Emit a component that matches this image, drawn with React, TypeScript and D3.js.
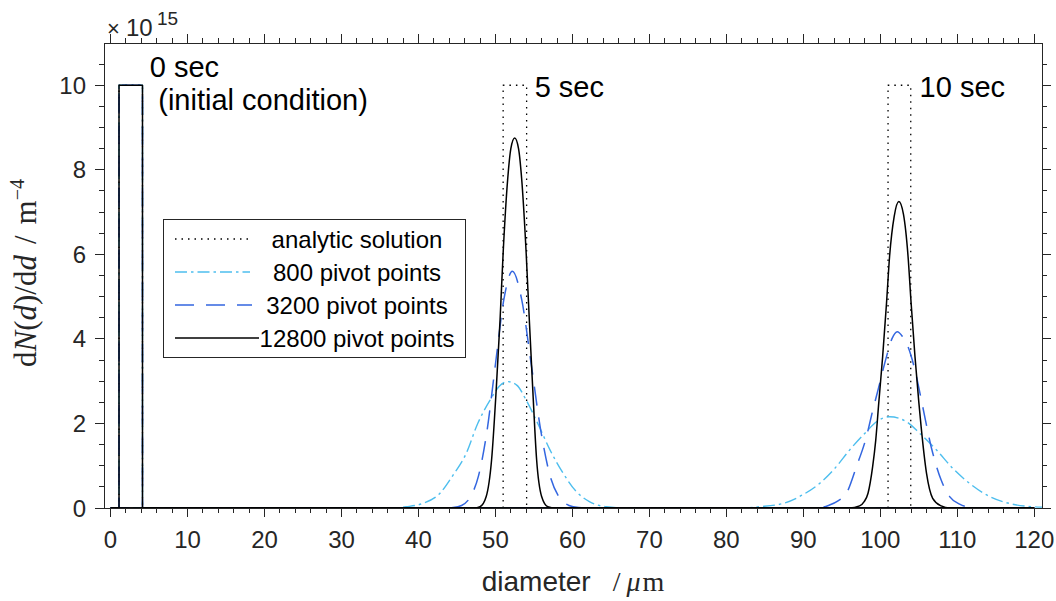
import React from 'react';
import * as d3 from 'd3';

// ---- axes data ----
const X_DOMAIN: [number, number] = [-0.85, 121];
const Y_DOMAIN: [number, number] = [0, 11];
const X_MAJOR = [0, 10, 20, 30, 40, 50, 60, 70, 80, 90, 100, 110, 120];
const Y_MAJOR = [0, 2, 4, 6, 8, 10];
const X_MINOR_STEP = 2;
const Y_MINOR_STEP = 0.5;
const EXPONENT = '15';

// ---- legend / labels ----
const SERIES_NAMES = ['analytic solution', '800 pivot points', '3200 pivot points', '12800 pivot points'];

// analytic solution: top-hat distributions [dmin, dmax] at height 10 (x1e15)
const RECT_BOUNDS: [number, number][] = [[1.1, 4.15], [51, 54.05], [101, 103.95]];
const RECT_HEIGHT = 10;

// annotations (text, d, value)
const ANNOTATIONS: { text: string; d: number; v: number }[] = [
  { text: '0 sec', d: 5.1, v: 10.2 },
  { text: '(initial condition)', d: 6.2, v: 9.42 },
  { text: '5 sec', d: 55.1, v: 9.73 },
  { text: '10 sec', d: 105.1, v: 9.73 },
];

// ---- numerical results [d (um), dN/dd (x1e15)] ----
const P800_T5: [number, number][] = [
  [0, 0], [36.5, 0], [38.4, 0.03], [40.6, 0.11], [42.8, 0.35], [44.5, 0.78], [46.2, 1.29], [47.7, 2.0],
  [49.3, 2.55], [50.5, 2.88], [51.6, 2.99], [52.8, 2.9], [54.0, 2.55], [55.5, 2.0], [57.1, 1.37],
  [58.8, 0.82], [60.5, 0.39], [62.2, 0.15], [64.4, 0.03], [67, 0], [120, 0],
];
const P3200_T5: [number, number][] = [
  [0, 0], [43.5, 0], [44.5, 0.01], [45.6, 0.06], [46.7, 0.25], [47.8, 0.76], [48.9, 1.82], [50.0, 3.4],
  [51.1, 4.94], [52.2, 5.6], [53.4, 4.94], [54.65, 3.4], [55.9, 1.82], [57.1, 0.76], [58.3, 0.25],
  [59.55, 0.06], [60.8, 0.01], [62, 0], [120, 0],
];
const P12800_T5: [number, number][] = [
  [0, 0], [47.2, 0], [48.0, 0.03], [48.8, 0.27], [49.5, 1.14], [50.1, 2.8], [50.6, 4.45], [51.0, 6.03],
  [51.6, 7.8], [52.0, 8.5], [52.5, 8.75], [53.0, 8.5], [53.4, 7.8], [54.0, 6.0], [54.4, 4.45],
  [54.85, 2.8], [55.35, 1.14], [56.0, 0.27], [56.8, 0.03], [57.8, 0], [120, 0],
];
const P800_T10: [number, number][] = [
  [0, 0], [82, 0], [84.3, 0.03], [87.4, 0.11], [89.9, 0.31], [92.1, 0.58], [94.1, 0.94], [96.0, 1.37],
  [98.0, 1.77], [99.5, 2.04], [101.2, 2.16], [103.4, 2.04], [105.1, 1.77], [107.3, 1.37], [109.4, 0.94],
  [111.6, 0.58], [114.2, 0.27], [117.2, 0.09], [119.8, 0.03], [121, 0.02],
];
const P3200_T10: [number, number][] = [
  [0, 0], [90.5, 0], [92.5, 0.02], [93.4, 0.07], [94.5, 0.17], [95.6, 0.35], [96.9, 0.98], [98.2, 1.69],
  [99.0, 2.3], [99.7, 2.79], [100.8, 3.58], [101.5, 4.0], [102.2, 4.17], [102.9, 4.05], [103.4, 3.9],
  [104.5, 3.26], [105.5, 2.4], [106.6, 1.45], [107.9, 0.66], [109.0, 0.27], [110.3, 0.09], [111.5, 0.02],
  [113, 0], [120, 0],
];
const P12800_T10: [number, number][] = [
  [0, 0], [96.0, 0], [97.3, 0.05], [97.9, 0.15], [98.4, 0.35], [99.0, 0.98], [99.4, 1.6], [99.8, 2.5],
  [100.3, 3.58], [100.8, 4.84], [101.2, 5.95], [101.8, 6.9], [102.4, 7.25], [103.0, 6.95], [103.6, 5.95],
  [104.0, 4.84], [104.5, 3.58], [105.0, 2.5], [105.3, 1.92], [106.0, 0.82], [106.8, 0.23], [107.9, 0.05],
  [109, 0], [120, 0],
];

const AXIS_COLOR = '#262626';
const SANS = 'Liberation Sans, Arial, Helvetica, sans-serif';
const SERIF = 'Liberation Serif, Times New Roman, DejaVu Serif, serif';

const STYLES = [
  { color: '#000000', dash: '1.5,5', width: 1.3 },
  { color: '#4DBEEE', dash: '12,4,2.5,4', width: 1.4 },
  { color: '#3366E0', dash: '19,12', width: 1.5 },
  { color: '#000000', dash: 'none', width: 1.5 },
];

export default function App() {
  const W = 1056;
  const H = 601;
  const x = d3.scaleLinear().domain(X_DOMAIN).range([104, 1042]);
  const y = d3.scaleLinear().domain(Y_DOMAIN).range([508, 43]);

  const linear = d3.line<[number, number]>().x((p) => x(p[0])).y((p) => y(p[1]));
  const smooth = d3
    .line<[number, number]>()
    .x((p) => x(p[0]))
    .y((p) => y(p[1]))
    .curve(d3.curveMonotoneX);

  const rectPts = (b: [number, number]): [number, number][] => [
    [b[0], 0], [b[0], RECT_HEIGHT], [b[1], RECT_HEIGHT], [b[1], 0],
  ];
  const initPts: [number, number][] = [[0, 0], ...rectPts(RECT_BOUNDS[0]), [120, 0]];

  const seriesPaths: string[][] = [
    RECT_BOUNDS.map((b) => linear(rectPts(b)) as string),
    [linear(initPts) as string, smooth(P800_T5) as string, smooth(P800_T10) as string],
    [linear(initPts) as string, smooth(P3200_T5) as string, smooth(P3200_T10) as string],
    [linear(initPts) as string, smooth(P12800_T5) as string, smooth(P12800_T10) as string],
  ];

  const xMinor = d3.range(X_MAJOR[0], X_MAJOR[X_MAJOR.length - 1] + 0.001, X_MINOR_STEP).filter(
    (v) => !X_MAJOR.includes(v)
  );
  const yMinor = d3.range(0, Y_DOMAIN[1] - 0.001, Y_MINOR_STEP).filter((v) => !Y_MAJOR.includes(v));

  const [x0, x1] = x.range();
  const [y0, y1] = y.range(); // y0 bottom, y1 top
  const MAJ = 9;
  const MIN = 5;

  // legend layout
  const lg = { x: 163, y: 219, w: 302, h: 138 };
  const rowY = [239, 272, 305, 338];
  const lineEnd = [250, 250, 252, 259];

  return (
    <svg
      width={W}
      height={H}
      style={{ position: 'absolute', left: 0, top: 0, background: '#fff' }}
      xmlns="http://www.w3.org/2000/svg"
    >
      <rect x={0} y={0} width={W} height={H} fill="#fff" />

      {/* series */}
      {seriesPaths.map((paths, i) =>
        paths.map((d, j) => (
          <path
            key={`s${i}-${j}`}
            d={d}
            fill="none"
            stroke={STYLES[i].color}
            strokeWidth={STYLES[i].width}
            strokeDasharray={STYLES[i].dash}
            strokeLinejoin="round"
          />
        ))
      )}

      {/* axes box */}
      <g stroke={AXIS_COLOR} strokeWidth={1} fill="none" shapeRendering="crispEdges">
        <line x1={x0} x2={x1} y1={y0} y2={y0} />
        <line x1={x0} x2={x1} y1={y1} y2={y1} />
        <line x1={x0} x2={x0} y1={y0} y2={y1} />
        <line x1={x1} x2={x1} y1={y0} y2={y1} />
        {X_MAJOR.map((v) => (
          <g key={`xm${v}`}>
            <line x1={x(v)} x2={x(v)} y1={y0} y2={y0 + MAJ} />
            <line x1={x(v)} x2={x(v)} y1={y1} y2={y1 - MAJ} />
          </g>
        ))}
        {xMinor.map((v) => (
          <g key={`xn${v}`}>
            <line x1={x(v)} x2={x(v)} y1={y0} y2={y0 + MIN} />
            <line x1={x(v)} x2={x(v)} y1={y1} y2={y1 - MIN} />
          </g>
        ))}
        {Y_MAJOR.map((v) => (
          <g key={`ym${v}`}>
            <line x1={x0} x2={x0 - MAJ} y1={y(v)} y2={y(v)} />
            <line x1={x1} x2={x1 + MAJ} y1={y(v)} y2={y(v)} />
          </g>
        ))}
        {yMinor.map((v) => (
          <g key={`yn${v}`}>
            <line x1={x0} x2={x0 - MIN} y1={y(v)} y2={y(v)} />
            <line x1={x1} x2={x1 + MIN} y1={y(v)} y2={y(v)} />
          </g>
        ))}
      </g>

      {/* tick labels */}
      <g fill={AXIS_COLOR} fontFamily={SANS} fontSize={24}>
        {X_MAJOR.map((v) => (
          <text key={`xl${v}`} x={x(v)} y={y0 + 40} textAnchor="middle">
            {v}
          </text>
        ))}
        {Y_MAJOR.map((v) => (
          <text key={`yl${v}`} x={x0 - 18} y={y(v) + 8.5} textAnchor="end">
            {v}
          </text>
        ))}
      </g>

      {/* exponent */}
      <g fill={AXIS_COLOR} fontFamily={SANS}>
        <text x={x0 + 3} y={36} fontSize={22}>
          ×
        </text>
        <text x={x0 + 22} y={36} fontSize={24}>
          10
        </text>
        <text x={x0 + 53} y={25} fontSize={19}>
          {EXPONENT}
        </text>
      </g>

      {/* axis labels */}
      <text x={(x0 + x1) / 2} y={591} textAnchor="middle" fill={AXIS_COLOR} fontSize={28}>
        <tspan fontFamily={SANS}>diameter</tspan>
        <tspan fontFamily={SERIF} dx={22}>/</tspan>
        <tspan fontFamily={SERIF} fontStyle="italic" dx={6}>μ</tspan>
        <tspan fontFamily={SERIF} dx={2}>m</tspan>
      </text>
      <text
        transform={`translate(36, 273) rotate(-90)`}
        textAnchor="middle"
        fill={AXIS_COLOR}
        fontFamily={SERIF}
        fontSize={31}
      >
        <tspan>d</tspan>
        <tspan fontStyle="italic">N</tspan>
        <tspan>(</tspan>
        <tspan fontStyle="italic">d</tspan>
        <tspan>)/d</tspan>
        <tspan fontStyle="italic">d</tspan>
        <tspan dx={11}>/</tspan>
        <tspan dx={11}>m</tspan>
        <tspan fontSize={20} dy={-12}>−4</tspan>
      </text>

      {/* annotations */}
      <g fill="#000" fontFamily={SANS} fontSize={29}>
        {ANNOTATIONS.map((a) => (
          <text key={a.text} x={x(a.d)} y={y(a.v)}>
            {a.text}
          </text>
        ))}
      </g>

      {/* legend */}
      <g>
        <rect x={lg.x} y={lg.y} width={lg.w} height={lg.h} fill="#fff" stroke={AXIS_COLOR} strokeWidth={1} shapeRendering="crispEdges" />
        {SERIES_NAMES.map((name, i) => (
          <g key={name}>
            <line
              x1={175}
              x2={lineEnd[i]}
              y1={rowY[i]}
              y2={rowY[i]}
              stroke={STYLES[i].color}
              strokeWidth={STYLES[i].width}
              strokeDasharray={STYLES[i].dash}
            />
            <text x={357} y={rowY[i] + 8.5} textAnchor="middle" fontFamily={SANS} fontSize={24} fill="#000">
              {name}
            </text>
          </g>
        ))}
      </g>
    </svg>
  );
}
